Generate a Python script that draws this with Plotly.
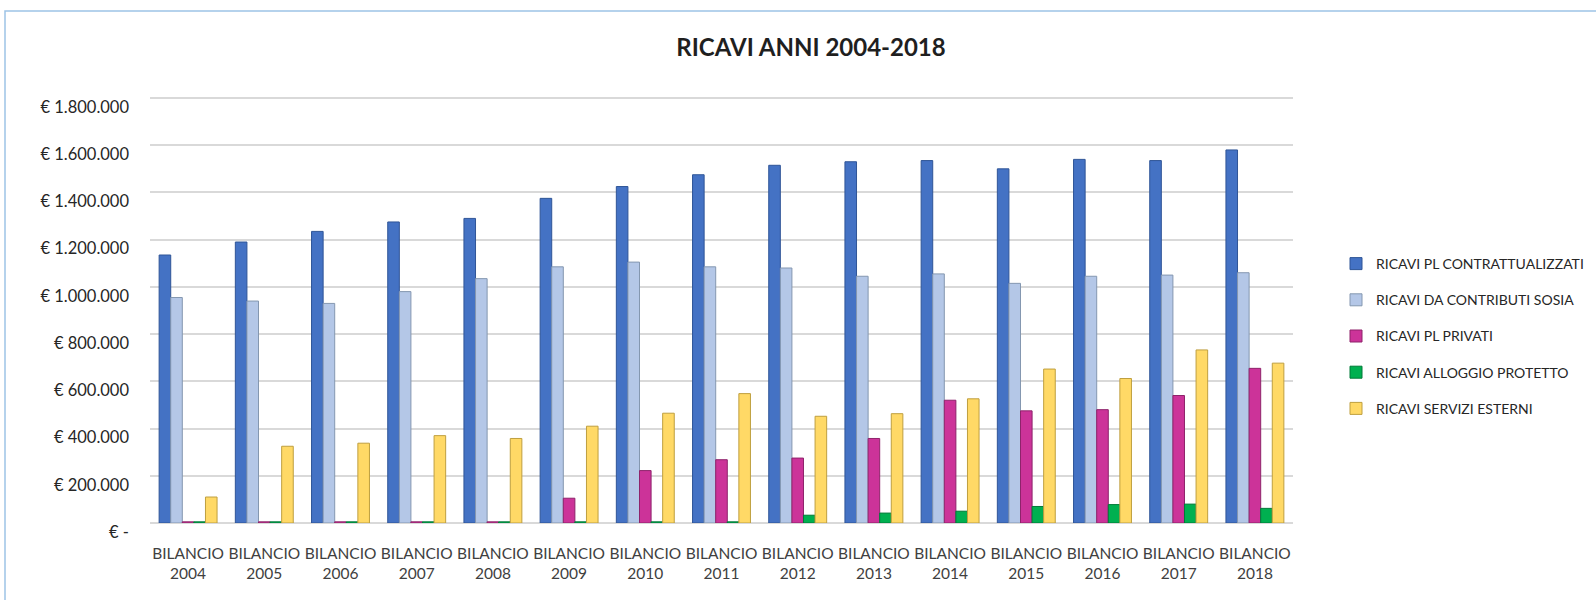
import plotly.graph_objects as go

categories = [f"BILANCIO<br>{y}" for y in range(2004, 2019)]

pl_contrattualizzati = [1135000, 1190000, 1235000, 1275000, 1290000, 1375000, 1425000, 1475000,
                        1515000, 1530000, 1535000, 1500000, 1540000, 1535000, 1580000]
contributi_sosia = [955000, 940000, 930000, 980000, 1035000, 1085000, 1105000, 1085000,
                    1080000, 1045000, 1055000, 1015000, 1045000, 1050000, 1060000]
pl_privati = [5000, 5000, 5000, 5000, 5000, 105000, 222000, 268000,
              275000, 358000, 520000, 475000, 480000, 540000, 655000]
alloggio_protetto = [5000, 5000, 5000, 5000, 5000, 5000, 5000, 5000,
                     33000, 42000, 50000, 70000, 78000, 80000, 62000]
servizi_esterni = [110000, 325000, 338000, 370000, 358000, 410000, 465000, 548000,
                   452000, 463000, 526000, 652000, 612000, 733000, 677000]

series_names = ["RICAVI PL CONTRATTUALIZZATI", "RICAVI DA CONTRIBUTI SOSIA", "RICAVI PL PRIVATI",
                "RICAVI ALLOGGIO PROTETTO", "RICAVI SERVIZI ESTERNI"]
series_values = [pl_contrattualizzati, contributi_sosia, pl_privati, alloggio_protetto, servizi_esterni]
colors = ["#4472C4", "#B4C7E7", "#CC3399", "#00B050", "#FFD966"]
edge_colors = ["#2F5597", "#8497B0", "#8E236B", "#007A38", "#BF9F3F"]

tick_vals = [0, 200000, 400000, 600000, 800000, 1000000, 1200000, 1400000, 1600000, 1800000]
tick_text = ["€ -", "€ 200.000", "€ 400.000", "€ 600.000", "€ 800.000", "€ 1.000.000",
             "€ 1.200.000", "€ 1.400.000", "€ 1.600.000", "€ 1.800.000"]

FONT = "Lato"

fig = go.Figure()
for i, (name, vals) in enumerate(zip(series_names, series_values)):
    fig.add_trace(go.Bar(
        x=categories, y=vals, name=name,
        marker=dict(color=colors[i], line=dict(color=edge_colors[i], width=1)),
        legendgroup=f"g{i}",
    ))

W_L, W_R, W_T, W_B = 150, 303, 94, 77
plot_w = 1596 - W_L - W_R
plot_h = 600 - W_T - W_B
ZERO = 600 - W_B
Y_TOP = 1800000 * (ZERO - W_T) / (ZERO - 98)

fig.update_layout(
    width=1596, height=600,
    margin=dict(l=W_L, r=W_R, t=W_T, b=W_B, autoexpand=False),
    paper_bgcolor="white", plot_bgcolor="white",
    barmode="group", bargap=0.24, bargroupgap=0.0,
    font=dict(family=FONT, size=15, color="#404040"),
    title=dict(text="<b>RICAVI ANNI 2004-2018</b>", x=811 / 1596, xref="container",
               xanchor="center", y=1 - 48 / 600, yref="container", yanchor="middle",
               font=dict(family=FONT, size=24, color="#1F1F1F")),
    xaxis=dict(showgrid=False, showline=False, ticks="", ticklabelstandoff=19,
               tickfont=dict(size=15.5, color="#404040")),
    yaxis=dict(range=[0, Y_TOP], tickvals=tick_vals, ticktext=tick_text, showgrid=True,
               gridcolor="#D9D9D9", gridwidth=1.5, zeroline=True, zerolinecolor="#D9D9D9",
               zerolinewidth=1.5, showline=False, ticks="", ticklabelstandoff=20,
               ticklabelshift=9, tickfont=dict(size=16.5, color="#262626")),
    legend=dict(x=(1336 - W_L) / plot_w, xanchor="left", y=(ZERO - 336) / plot_h, yanchor="middle",
                font=dict(size=14, color="#262626"), tracegroupgap=15, itemwidth=30),
    showlegend=True,
)

fig.add_shape(type="rect", xref="paper", yref="paper",
              x0=(5 - W_L) / plot_w, x1=(1610 - W_L) / plot_w,
              y0=(ZERO - 615) / plot_h, y1=(ZERO - 11) / plot_h,
              line=dict(color="#9DC3E6", width=1.5), fillcolor="rgba(0,0,0,0)", layer="below")

fig.write_html("out.html", config={"displayModeBar": False},
               post_script="document.body.style.margin='0';")
